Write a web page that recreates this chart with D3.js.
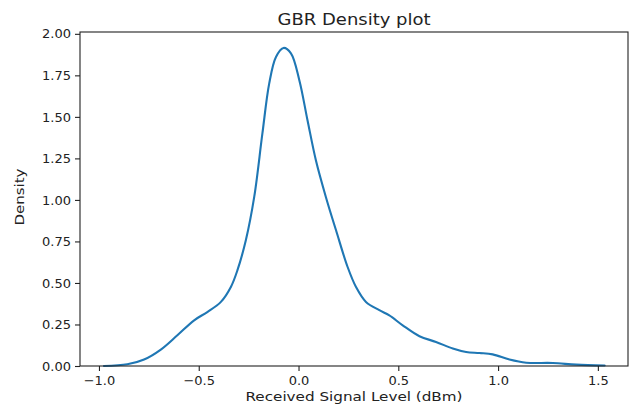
<!DOCTYPE html>
<html>
<head>
<meta charset="utf-8">
<script src="https://cdn.jsdelivr.net/npm/d3@7"></script>
<style>
  body { margin: 0; background: #fff; }
  text { font-family: "DejaVu Sans", sans-serif; fill: #222; }
</style>
</head>
<body>
<svg id="chart" width="634" height="404"></svg>
<script>
// density curve
var signalLevel = [-0.975, -0.858, -0.774, -0.690, -0.607, -0.523, -0.457, -0.389, -0.339, -0.306,
                   -0.264, -0.222, -0.181, -0.147, -0.113, -0.075, -0.038, 0.004, 0.045, 0.087,
                   0.137, 0.188, 0.246, 0.288, 0.338, 0.405, 0.455, 0.522, 0.606, 0.689,
                   0.773, 0.840, 0.907, 0.973, 1.057, 1.141, 1.274, 1.392, 1.534];
var density = [0.000, 0.010, 0.039, 0.099, 0.185, 0.275, 0.325, 0.386, 0.476, 0.577,
               0.757, 1.018, 1.400, 1.700, 1.861, 1.915, 1.882, 1.721, 1.480, 1.239,
               1.018, 0.817, 0.596, 0.476, 0.386, 0.336, 0.305, 0.245, 0.179, 0.145,
               0.105, 0.084, 0.078, 0.070, 0.039, 0.020, 0.018, 0.008, 0.003];
var xTicks = [-1.0, -0.5, 0.0, 0.5, 1.0, 1.5];
var yTicks = [0.00, 0.25, 0.50, 0.75, 1.00, 1.25, 1.50, 1.75, 2.00];

var svg = d3.select("#chart");
var plotL = 80, plotR = 628, plotT = 32, plotB = 366;

var x = d3.scaleLinear().domain([-1.095, 1.651]).range([plotL, plotR]);
var y = d3.scaleLinear().domain([0, 2.011]).range([plotB, plotT]);

var pts = signalLevel.map(function(v, i) { return { x: v, y: density[i] }; });

var line = d3.line()
    .x(function(d) { return x(d.x); })
    .y(function(d) { return y(d.y); })
    .curve(d3.curveCatmullRom.alpha(0.5));

svg.append("path")
    .datum(pts)
    .attr("d", line)
    .attr("fill", "none")
    .attr("stroke", "#1f77b4")
    .attr("stroke-width", 2.1)
    .attr("stroke-linejoin", "round")
    .attr("stroke-linecap", "round");

// axes
var xAxis = d3.axisBottom(x).tickValues(xTicks).tickSize(5).tickPadding(5)
    .tickFormat(function(d) { return d3.format(".1f")(d).replace("-", "\u2212"); });
var yAxis = d3.axisLeft(y).tickValues(yTicks).tickSize(5).tickPadding(4)
    .tickFormat(d3.format(".2f"));

var gx = svg.append("g").attr("transform", "translate(0," + plotB + ")").call(xAxis);
var gy = svg.append("g").attr("transform", "translate(" + plotL + ",0)").call(yAxis);

[gx, gy].forEach(function(g) {
    g.select(".domain").remove();
    g.selectAll(".tick line").attr("stroke", "#222").attr("stroke-width", 1.1);
    g.selectAll(".tick text")
        .style("font-family", "DejaVu Sans")
        .style("font-size", "13px")
        .attr("fill", "#222");
});

// frame
svg.append("rect")
    .attr("x", plotL).attr("y", plotT)
    .attr("width", plotR - plotL).attr("height", plotB - plotT)
    .attr("fill", "none")
    .attr("stroke", "#222")
    .attr("stroke-width", 1.1);

// labels
svg.append("text")
    .attr("x", (plotL + plotR) / 2).attr("y", 25)
    .attr("text-anchor", "middle")
    .style("font-size", "16px")
    .attr("textLength", 153).attr("lengthAdjust", "spacingAndGlyphs")
    .text("GBR Density plot");

svg.append("text")
    .attr("x", (plotL + plotR) / 2).attr("y", 401)
    .attr("text-anchor", "middle")
    .style("font-size", "13px")
    .attr("textLength", 217).attr("lengthAdjust", "spacingAndGlyphs")
    .text("Received Signal Level (dBm)");

svg.append("text")
    .attr("transform", "translate(24,197) rotate(-90)")
    .attr("text-anchor", "middle")
    .style("font-size", "13px")
    .attr("textLength", 57).attr("lengthAdjust", "spacingAndGlyphs")
    .text("Density");
</script>
</body>
</html>
